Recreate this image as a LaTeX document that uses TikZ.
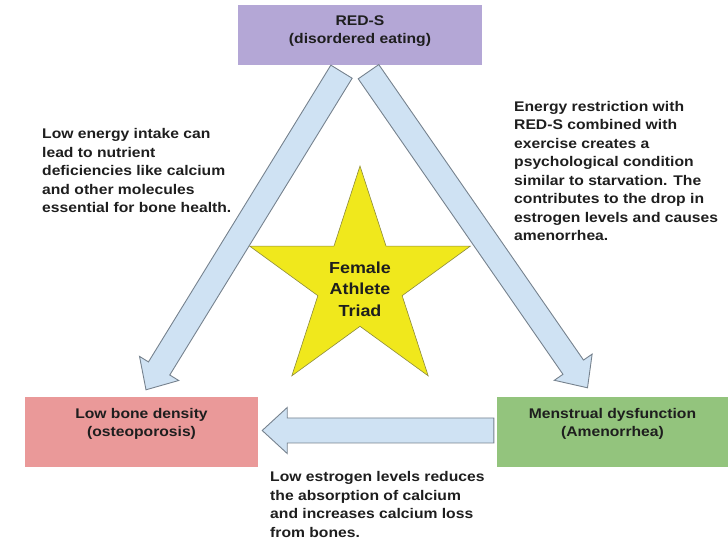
\documentclass[tikz,border=0pt]{standalone}
\usepackage{fontspec}
\setmainfont{Liberation Sans}[FakeStretch=1.12]
\usepackage{xcolor}
\usepackage{tikz}
\usetikzlibrary{arrows.meta,positioning,calc,shapes.geometric}
\definecolor{triadlilac}{HTML}{B4A7D6}
\definecolor{triadrose}{HTML}{EA9999}
\definecolor{triadgreen}{HTML}{93C47D}
\definecolor{triadsky}{HTML}{CFE2F3}
\definecolor{triadslate}{HTML}{76828E}
\definecolor{triadstar}{HTML}{F0E81C}
\definecolor{triadolive}{HTML}{8C8A3C}
\definecolor{triadink}{HTML}{1E1E1E}

\tikzset{
  triadbox/.style={minimum width=233pt,minimum height=70pt,inner sep=0pt},
  boxtext/.style={text=triadink,font=\bfseries\fontsize{14}{18.5}\selectfont,
    align=center,inner sep=0pt},
  notetext/.style={text=triadink,font=\bfseries\fontsize{14}{18.5}\selectfont,
    align=left,inner sep=0pt,anchor=west},
  fatarrow/.style={draw=triadslate,fill=triadsky,line width=0.9pt,line join=miter,
    to path={let \p1=(\tikztostart),\p2=(\tikztotarget),
      \n1={atan2(\y2-\y1,\x2-\x1)},\n2={veclen(\x2-\x1,\y2-\y1)} in
      ([shift={(\p1)},rotate=\n1]0pt,12.5pt)
      -- ([shift={(\p1)},rotate=\n1]\n2-25pt,12.5pt)
      -- ([shift={(\p1)},rotate=\n1]\n2-25pt,23pt)
      -- (\p2)
      -- ([shift={(\p1)},rotate=\n1]\n2-25pt,-23pt)
      -- ([shift={(\p1)},rotate=\n1]\n2-25pt,-12.5pt)
      -- ([shift={(\p1)},rotate=\n1]0pt,-12.5pt) -- cycle}},
}

\begin{document}
\begin{tikzpicture}[x=1pt,y=1pt]
\useasboundingbox (0,0) rectangle (728,545);

% the three corners of the triad
\node[triadbox,fill=triadlilac,minimum width=244pt,minimum height=60pt] (reds) at (360,510) {};
\node[triadbox,fill=triadrose] (bone) at (141.5,113) {};
\node[triadbox,fill=triadgreen,minimum width=231pt] (mens) at (612.5,113) {};
\node[boxtext] (redsText) at ([yshift=4pt]reds.center) {RED-S\\(disordered eating)};
\node[boxtext] (boneText) at ([yshift=8pt]bone.center) {Low bone density\\(osteoporosis)};
\node[boxtext] (mensText) at ([yshift=8pt]mens.center) {Menstrual dysfunction\\(Amenorrhea)};

% block arrows
\draw[fatarrow] ([shift={(-18.5pt,-6.5pt)}]reds.south) to ([shift={(4.5pt,7pt)}]bone.north);
\draw[fatarrow] ([shift={(8.5pt,-6.5pt)}]reds.south) to ([shift={(-25pt,9pt)}]mens.north);
\draw[fatarrow] ([shift={(-3pt,1.5pt)}]mens.west) to ([shift={(4pt,1.5pt)}]bone.east);

% star in the middle
\node[star,star points=5,star point ratio=2.618,minimum size=232pt,inner sep=0pt,
      fill=triadstar,draw=triadolive,line width=0.6pt] (triad) at (360,263) {};
\node[boxtext,font=\bfseries\fontsize{16}{21.5}\selectfont] (triadText)
  at ([yshift=-7pt]triad.center) {Female\\Athlete\\Triad};

% explanations
\node[notetext] (intakeNote) at (42,374) {Low energy intake can\\lead to nutrient\\%
  deficiencies like calcium\\and other molecules\\essential for bone health.};
\node[notetext] (starveNote) at (514,374) {Energy restriction with\\RED-S combined with\\%
  exercise creates a\\psychological condition\\similar to starvation. The\\%
  contributes to the drop in\\estrogen levels and causes\\amenorrhea.};
\node[notetext] (calciumNote) at (270,40.5) {Low estrogen levels reduces\\%
  the absorption of calcium\\and increases calcium loss\\from bones.};
\end{tikzpicture}
\end{document}
